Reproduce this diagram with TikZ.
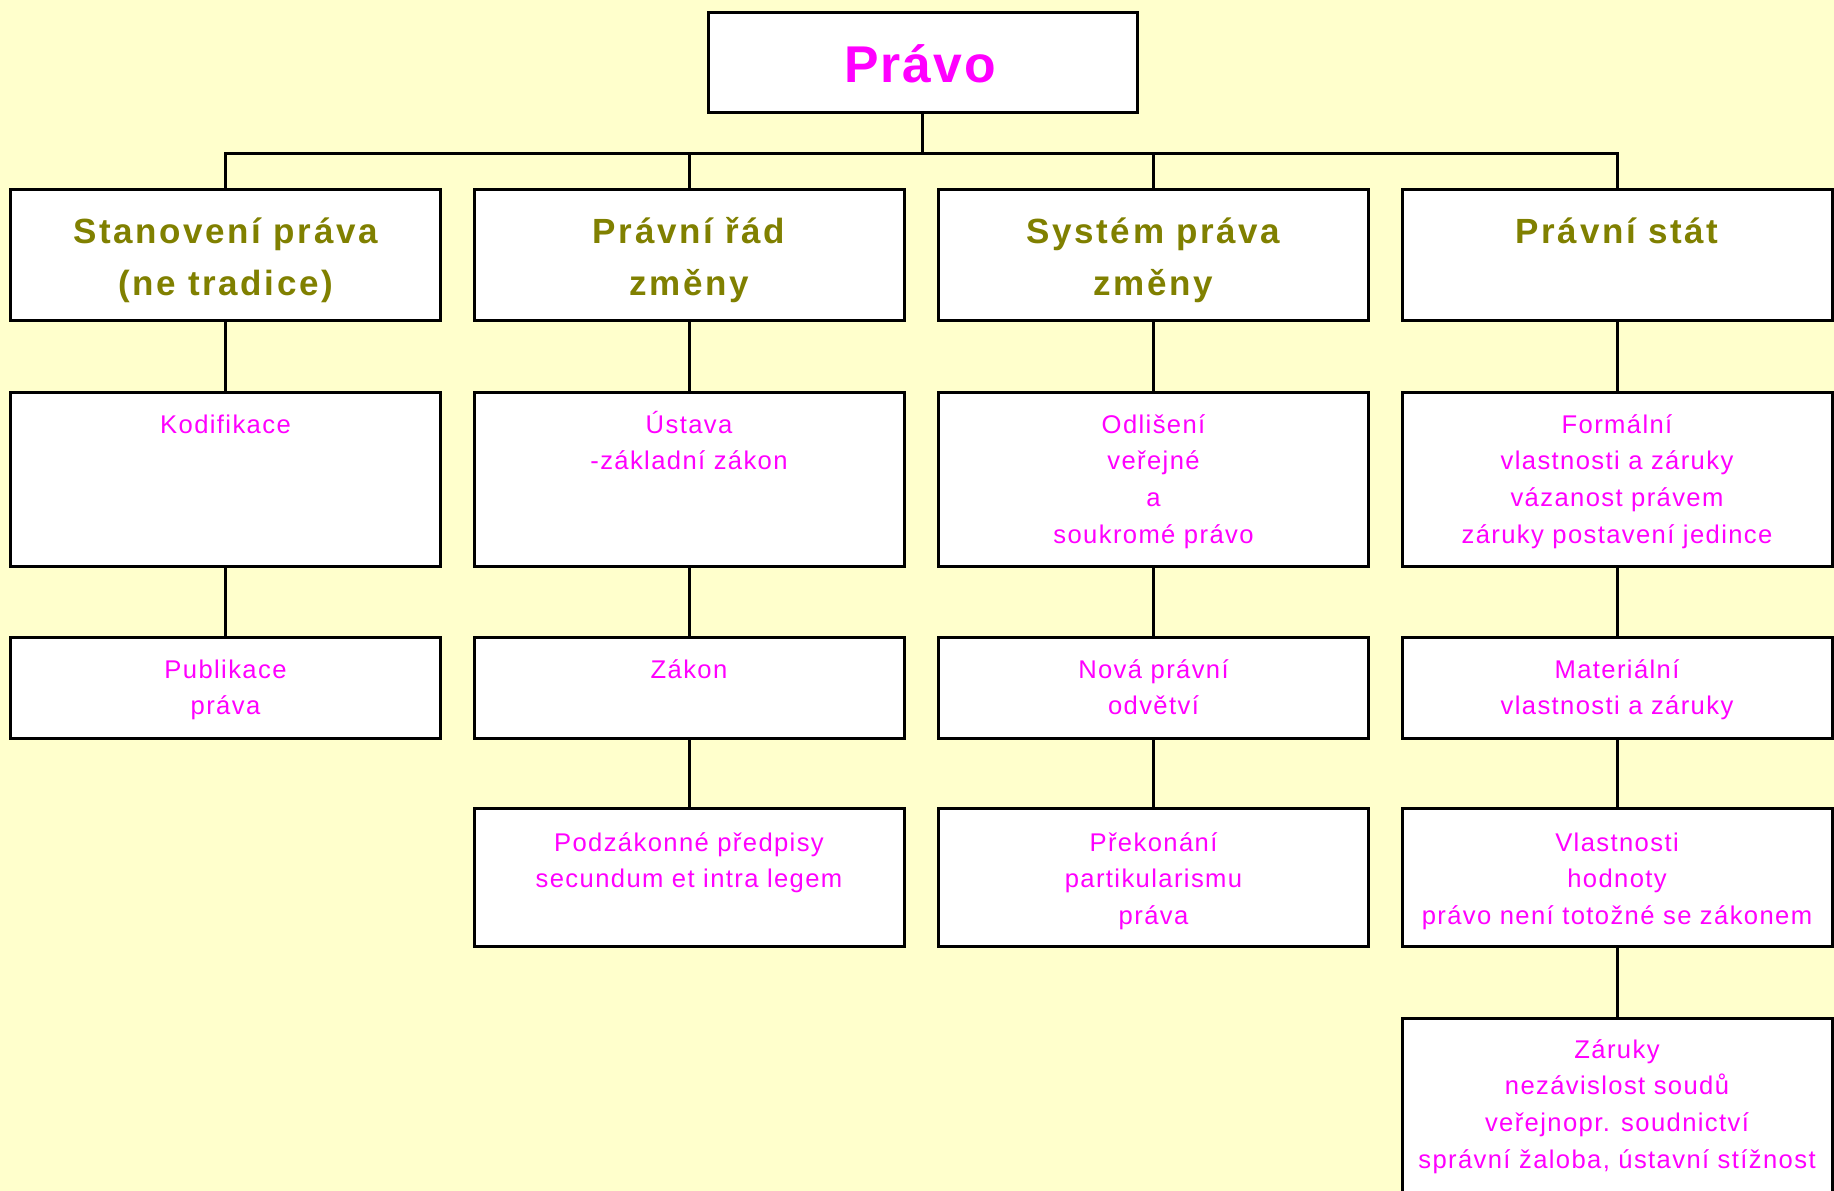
\documentclass[tikz,border=0pt]{standalone}
\usepackage{fontspec}
\setmainfont{Liberation Sans}
\newfontfamily\headfont[LetterSpace=7.5]{Liberation Sans}
\newfontfamily\itemfont[LetterSpace=5.4]{Liberation Sans}
\newfontfamily\topfont[LetterSpace=4]{Liberation Sans}
\definecolor{bgyellow}{HTML}{FFFFCC}
\definecolor{olivetext}{HTML}{808000}
\definecolor{pinktext}{RGB}{255,0,255}

\begin{document}
\begin{tikzpicture}[x=1pt, y=-1pt,
  box/.style={draw, line width=3pt, fill=white, minimum width=430pt, inner sep=0pt, outer sep=0pt, anchor=north},
  link/.style={line width=3pt},
  head/.style={text=olivetext, font=\headfont\bfseries\fontsize{35}{52}\selectfont, align=center, anchor=base, inner sep=0pt},
  item/.style={text=pinktext, font=\itemfont\fontsize{25.6}{36.7}\selectfont, align=center, anchor=base, inner sep=0pt}]

\fill[bgyellow] (0,0) rectangle (1834,1191);
\useasboundingbox (0,0) rectangle (1834,1191);

\node[box, minimum width=429pt, minimum height=100pt] (pravo) at (922.5,12) {};

\node[box, minimum height=131pt] (stan) at (225.5,189) {};
\node[box, minimum height=131pt] (rad) at (689,189) {};
\node[box, minimum height=131pt] (sys) at (1153.5,189) {};
\node[box, minimum height=131pt] (stat) at (1617,189) {};

\node[box, minimum height=174pt] (kodif) at (225.5,392) {};
\node[box, minimum height=174pt] (ustava) at (689,392) {};
\node[box, minimum height=174pt] (odlis) at (1153.5,392) {};
\node[box, minimum height=174pt] (formal) at (1617,392) {};

\node[box, minimum height=101pt] (publ) at (225.5,637) {};
\node[box, minimum height=101pt] (zakon) at (689,637) {};
\node[box, minimum height=101pt] (nova) at (1153.5,637) {};
\node[box, minimum height=101pt] (mater) at (1617,637) {};

\node[box, minimum height=138pt] (podz) at (689,808) {};
\node[box, minimum height=138pt] (prek) at (1153.5,808) {};
\node[box, minimum height=138pt] (vlast) at (1617,808) {};

\node[box, minimum height=200pt] (zaruky) at (1617,1018) {};

\coordinate (bus) at (922.5,153);
\draw[link] (pravo) -- (bus);
\foreach \n in {stan, rad, sys, stat}
  \draw[link] (\n.north) |- (bus);

\draw[link] (stan) edge (kodif) (kodif) edge (publ);
\draw[link] (rad) edge (ustava) (ustava) edge (zakon) (zakon) edge (podz);
\draw[link] (sys) edge (odlis) (odlis) edge (nova) (nova) edge (prek);
\draw[link] (stat) edge (formal) (formal) edge (mater) (mater) edge (vlast) (vlast) edge (zaruky);

\node[text=pinktext, font=\topfont\bfseries\fontsize{51.7}{60}\selectfont, anchor=base, inner sep=0pt] (pravo-t) at (920,82) {Právo};

\node[head] (stan-t) at (225.5,295) {Stanovení práva\\(ne tradice)};
\node[head] (rad-t) at (689,295) {Právní řád\\změny};
\node[head] (sys-t) at (1153.5,295) {Systém práva\\změny};
\node[head] (stat-t) at (1617,243) {Právní stát};

\node[item] (kodif-t) at (225.5,433) {Kodifikace};
\node[item] (ustava-t) at (689,469.7) {Ústava\\-základní zákon};
\node[item] (odlis-t) at (1153.5,543.1) {Odlišení\\veřejné\\a\\soukromé právo};
\node[item] (formal-t) at (1617,543.1) {Formální\\vlastnosti a záruky\\vázanost právem\\záruky postavení jedince};

\node[item] (publ-t) at (225.5,714.7) {Publikace\\práva};
\node[item] (zakon-t) at (689,678) {Zákon};
\node[item] (nova-t) at (1153.5,714.7) {Nová právní\\odvětví};
\node[item] (mater-t) at (1617,714.7) {Materiální\\vlastnosti a záruky};

\node[item] (podz-t) at (689,887.7) {Podzákonné předpisy\\secundum et intra legem};
\node[item] (prek-t) at (1153.5,924.4) {Překonání\\partikularismu\\práva};
\node[item] (vlast-t) at (1617,924.4) {Vlastnosti\\hodnoty\\právo není totožné se zákonem};

\node[item] (zaruky-t) at (1617,1168.1) {Záruky\\nezávislost soudů\\veřejnopr. soudnictví\\správní žaloba, ústavní stížnost};

\end{tikzpicture}
\end{document}
